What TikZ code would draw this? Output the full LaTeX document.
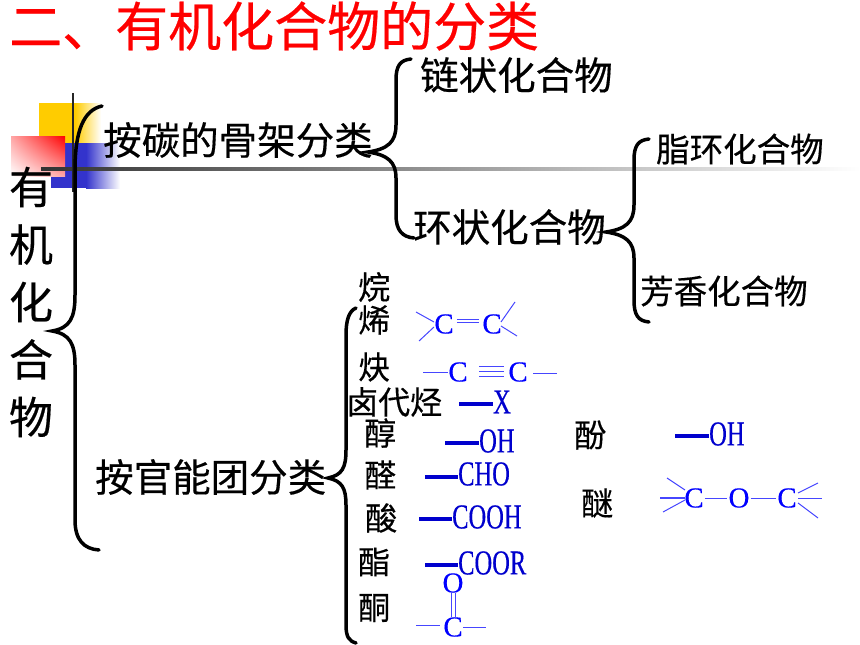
\documentclass[tikz,border=0pt]{standalone}
\usepackage{fontspec}
\usetikzlibrary{shadings}
\setmainfont[FakeBold=0.4]{Noto Sans CJK SC}
\newfontfamily\narrowserif[FakeStretch=0.7, FakeBold=0.4]{Liberation Serif}
\newfontfamily\plainserif[FakeBold=0.3]{Liberation Serif}
\definecolor{titleRed}{RGB}{255, 0, 0}
\definecolor{groupBlue}{RGB}{0, 0, 205}
\definecolor{bondBlue}{RGB}{70, 70, 255}
\definecolor{squareYellow}{RGB}{255, 204, 0}
\definecolor{squareBlue}{RGB}{51, 51, 204}
\tikzset{
  cjkbig/.style={inner sep=0, anchor=west, font=\fontsize{38.5}{38.5}\selectfont},
  cjkmid/.style={inner sep=0, anchor=west, font=\fontsize{33.5}{33.5}\selectfont},
  cjksmall/.style={inner sep=0, anchor=west, font=\fontsize{32}{32}\selectfont},
  groupname/.style={inner sep=0, anchor=west, text=groupBlue, font=\narrowserif\fontsize{35}{35}\selectfont},
  atom/.style={inner sep=1pt, text=blue, font=\plainserif\fontsize{29}{29}\selectfont},
  stub/.style={groupBlue, line width=3.5pt},
  bond/.style={bondBlue, line width=1pt},
  brace/.style={black, line width=3.5pt, line cap=round},
}
\begin{document}
\begin{tikzpicture}[x=1pt, y=-1pt]
  \useasboundingbox (0, 0) rectangle (860, 645);

  % corner squares
  \fill[squareYellow] (39, 103) rectangle (75, 143);
  \shade[left color=squareYellow, right color=white] (75, 103) rectangle (101, 143);
  \fill[squareBlue] (51, 143) rectangle (86, 188);
  \shade[left color=squareBlue, right color=white] (86, 143) rectangle (120, 188);
  \shade[upper right=red, upper left=red!35!white, lower right=red!35!white, lower left=white] (11, 136) rectangle (65, 176);
  \shade[left color=black!80, right color=white] (41, 167) rectangle (860, 170);
  \draw[black!85, line width=2.5pt] (73, 93) -- (73, 192);

  % braces
  \draw[brace] (102, 106) .. controls (84, 110) and (75, 130) .. (75, 170) -- (75, 295)
    .. controls (75, 318) and (70, 328) .. (52, 331) .. controls (70, 334) and (75, 344) .. (75, 365)
    -- (75, 520) .. controls (75, 540) and (84, 549) .. (99, 550);
  \draw[brace] (411, 59) .. controls (400, 60) and (396, 66) .. (396, 80) -- (396, 125)
    .. controls (396, 142) and (388, 149) .. (368, 152) .. controls (388, 155) and (396, 162) .. (396, 178)
    -- (396, 215) .. controls (396, 230) and (402, 237) .. (414, 238);
  \draw[brace] (649, 139) .. controls (638, 140) and (634, 146) .. (634, 160) -- (634, 205)
    .. controls (634, 222) and (626, 229) .. (606, 232) .. controls (626, 235) and (634, 242) .. (634, 258)
    -- (634, 300) .. controls (634, 315) and (638, 321) .. (649, 322);
  \draw[brace] (356, 308) .. controls (349, 311) and (346, 320) .. (346, 335) -- (346, 450)
    .. controls (346, 468) and (342, 475) .. (328, 478) .. controls (342, 481) and (346, 488) .. (346, 505)
    -- (346, 625) .. controls (346, 637) and (349, 641) .. (356, 643);

  % labels
  \node[inner sep=0, anchor=west, text=titleRed, font=\fontsize{53}{53}\selectfont] (title) at (9, 26) {二、有机化合物的分类};
  \node[inner sep=0, align=center, font=\fontsize{44}{57.5}\selectfont] (organic) at (31, 302) {有\\机\\化\\合\\物};
  \node[cjkbig] (skeleton) at (103, 140) {按碳的骨架分类};
  \node[cjkbig] (chain) at (420, 75) {链状化合物};
  \node[cjkbig] (ring) at (413, 227) {环状化合物};
  \node[cjkmid] (alicyclic) at (656, 149) {脂环化合物};
  \node[cjkmid] (aromatic) at (640, 291) {芳香化合物};
  \node[cjkbig] (functional) at (95, 477) {按官能团分类};
  \node[cjksmall] (alkane) at (358, 287) {烷};
  \node[cjksmall] (alkene) at (358, 320) {烯};
  \node[cjksmall] (alkyne) at (358, 367) {炔};
  \node[cjksmall] (halide) at (346, 402) {卤代烃};
  \node[cjksmall] (alcohol) at (364, 433) {醇};
  \node[cjksmall] (aldehyde) at (364, 475) {醛};
  \node[cjksmall] (acid) at (365, 518) {酸};
  \node[cjksmall] (ester) at (358, 562) {酯};
  \node[cjksmall] (ketone) at (358, 608) {酮};
  \node[cjksmall] (phenol) at (574, 435) {酚};
  \node[cjksmall] (ether) at (581, 503) {醚};

  % groups with a heavy stub
  \node[groupname] (xGroup) at (493, 402) {X};
  \node[groupname] (ohGroup) at (479, 441) {OH};
  \node[groupname] (choGroup) at (458, 474) {CHO};
  \node[groupname] (coohGroup) at (452, 517) {COOH};
  \node[groupname] (coorGroup) at (458, 563) {COOR};
  \node[groupname] (phGroup) at (709, 434) {OH};
  \coordinate (xStub) at (459, 404);
  \coordinate (ohStub) at (445, 443);
  \coordinate (choStub) at (425, 477);
  \coordinate (coohStub) at (419, 519);
  \coordinate (coorStub) at (425, 565);
  \coordinate (phStub) at (675, 436);
  \foreach \grp/\stb in {xGroup/xStub, ohGroup/ohStub, choGroup/choStub, coohGroup/coohStub, coorGroup/coorStub, phGroup/phStub}
    \draw[stub] (\stb) -- (\stb -| \grp.west);

  % alkene
  \node[atom, inner sep=3pt] (eneL) at (444, 324) {C};
  \node[atom, inner sep=3pt] (eneR) at (492, 324) {C};
  \foreach \dy in {1.5, 4.5}
    \draw[bond, line width=1.3pt] ([yshift=\dy pt]eneL.east) -- ([yshift=\dy pt]eneR.west);
  \coordinate (eneA) at (416, 312);
  \coordinate (eneB) at (419, 341);
  \coordinate (eneC) at (515, 302);
  \coordinate (eneD) at (517, 336);
  \draw[bond] (eneA) -- (434, 322) (eneB) -- (434, 327) (eneC) -- (501, 322) (eneD) -- (501, 326);

  % alkyne
  \node[atom, inner sep=0] (yneL) at (458, 372) {C};
  \node[atom, inner sep=0] (yneR) at (518, 372) {C};
  \coordinate (yneA) at (423, 372);
  \coordinate (yneB) at (557, 373);
  \draw[bond] (yneA) -- (yneL);
  \draw[bond] (533, 373) -- (yneB);
  \foreach \dy in {-5, 0, 5}
    \draw[bond] (479, 371+\dy) -- (504, 371+\dy);

  % ketone
  \node[atom, inner sep=0] (ketO) at (453, 583) {O};
  \node[atom, inner sep=0] (ketC) at (453, 627) {C};
  \foreach \dx in {-2, 2.5}
    \draw[bond] ([xshift=\dx pt]ketO.south) -- ([xshift=\dx pt]ketC.north);
  \coordinate (ketA) at (416, 625);
  \coordinate (ketB) at (486, 627);
  \draw[bond] (ketA) -- (440, 625) (463, 627) -- (ketB);

  % ether
  \node[atom] (ethL) at (694, 498) {C};
  \node[atom] (ethO) at (739, 498) {O};
  \node[atom] (ethR) at (787, 498) {C};
  \draw[bond] (ethL) -- (ethO);
  \draw[bond] (ethO) -- (ethR);
  \coordinate (ethA) at (667, 478);
  \coordinate (ethB) at (660, 498);
  \coordinate (ethC) at (663, 512);
  \coordinate (ethD) at (818, 483);
  \coordinate (ethE) at (822, 498);
  \coordinate (ethF) at (818, 518);
  \draw[bond] (ethA) -- (685, 490) (ethC) -- (685, 500) (ethD) -- (798, 493) (ethF) -- (798, 503);
  \draw[bond, line width=1.5pt] (ethB) -- (685, 498);
  \draw[bond] (798, 498) -- (ethE);
\end{tikzpicture}
\end{document}
